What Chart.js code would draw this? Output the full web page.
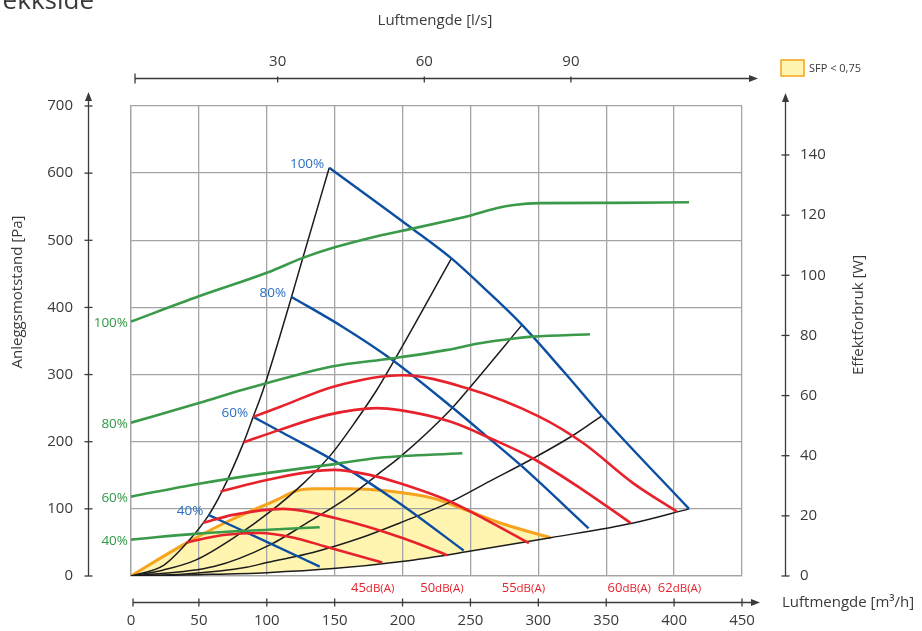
<!DOCTYPE html>
<html>
<head>
<meta charset="utf-8">
<script src="https://cdn.jsdelivr.net/npm/chart.js@4.4.1/dist/chart.umd.min.js"></script>
<style>
  html, body { margin: 0; padding: 0; background: #fff; }
  canvas { display: block; }
</style>
</head>
<body>
<canvas id="chart" width="922" height="631"></canvas>
<script>
// axis ticks
const flowTicks = [0, 50, 100, 150, 200, 250, 300, 350, 400, 450]   // m3/h
const lpsTicks = [30, 60, 90]                                         // l/s
const pressureTicks = [0, 100, 200, 300, 400, 500, 600, 700]         // Pa
const powerTicks = [0, 20, 40, 60, 80, 100, 120, 140]                // W

// system curves [m3/h, Pa] (black)
const sysA = [[0,0],[24,16],[41,49],[57,90],[67,126],[83,199],[90,237],[97,275],[118,414],[126,470],[146,608]]
const sysB = [[0,0],[24,9],[48,24],[78,60],[102,95],[127,138],[147,180],[166,232],[181,277],[193,318],[236,473]]
const sysC = [[0,0],[61,14],[102,46],[132,82],[159,116],[186,158],[198,177],[235,247],[248,277],[288,374]]
const sysD = [[0,0],[40,3],[85,13],[100,20],[134,35],[171,58],[198,79],[235,110],[264,141],[296,175],[326,210],[347,239]]
const sysE = [[0,0],[50,2],[100,5],[149,11],[201,22],[247,36],[309,57],[370,79],[411,100]]

// fan curves [m3/h, Pa] (blue)
const fan100 = [[146,608],[208,516],[236,473],[262,425],[288,374],[318,306],[347,238],[411,100]]
const fan80 = [[118,416],[156,371],[191,324],[236,252],[262,208],[287,165],[337,71]]
const fan60 = [[90,237],[112,213],[151,170],[198,108],[245,38]]
const fan40 = [[57,91],[102,49],[139,14]]
const fanLabels = ['100%', '80%', '60%', '40%']

// power consumption [m3/h, W] (green, right axis)
const pow100 = [[0,84.6],[50,93],[101,101],[126,105.7],[150,109.3],[182,113.1],[208,115.6],[236,118.4],[251,120],[269,122.3],[282,123.4],[301,124],[355,124.1],[411,124.3]]
const pow80 = [[0,51],[50,57.5],[83,62],[125,67.2],[147,69.6],[193,72.4],[233,75.2],[257,77.4],[282,79],[296,79.6],[338,80.4]]
const pow60 = [[0,26.4],[49,30.6],[101,34.3],[151,37.3],[183,39.3],[244,40.8]]
const pow40 = [[0,12.1],[49,14.1],[101,15.4],[139,16.2]]
const powLabels = ['100%', '80%', '60%', '40%']

// sound level lines [m3/h, Pa] (red)
const db45 = [[41,50],[68,61],[95,64],[122,56],[143,44],[185,20]]
const db50 = [[53,79],[75,91],[112,100],[151,86],[201,56],[233,31]]
const db55 = [[66,126],[100,143],[149,158],[175,151],[198,138],[235,111],[264,81],[293,49]]
const db60 = [[83,199],[110,218],[145,240],[181,250],[198,247],[235,230],[267,203],[296,175],[333,128],[368,79]]
const db62 = [[90,237],[110,252],[149,282],[200,299],[247,280],[301,237],[333,198],[370,138],[402,96]]
const dbLabels = ['45', '50', '55', '60', '62']
const dbLabelFlow = [178, 229, 289, 367, 404]

// SFP < 0,75 area upper limit [m3/h, Pa]
const sfpLimit = [[0,0],[38,46],[73,83],[107,113],[122,127],[135,130],[160,130],[188,127],[222,116],[247,98],[272,79],[309,57]]

const GRID = '#a4a4a4'
const AXIS = '#3a3a3a'
const TEXT = '#3a3a3a'
const BLACK = '#1c1c1c'
const BLUE = '#0c4fa2'
const BLUE_TXT = '#2d6fc2'
const RED = '#e8222c'
const GREEN = '#3a9a4a'
const GREEN_TXT = '#2f9946'
const ORANGE = '#f6a31e'
const YELLOW = '#fff5b0'
const FONT = "'Open Sans', sans-serif"

Chart.defaults.font.family = FONT
Chart.defaults.font.size = 15
Chart.defaults.color = TEXT

const line = (data, color, width, axis = 'y') => ({
  data: data.map(([x, y]) => ({x, y})),
  borderColor: color,
  borderWidth: width,
  yAxisID: axis,
  pointRadius: 0,
  fill: false,
  cubicInterpolationMode: 'monotone'
})

// first dataset is drawn on top
const datasets = [
  ...[pow100, pow80, pow60, pow40].map(c => line(c, GREEN, 2.6, 'y2')),
  ...[db45, db50, db55, db60, db62].map(c => line(c, RED, 2.6)),
  ...[fan100, fan80, fan60, fan40].map(c => line(c, BLUE, 2.4)),
]
// yellow area between the SFP limit and the lowest system curve
const fillIndex = datasets.length
datasets.push({...line(sfpLimit, 'rgba(0,0,0,0)', 0), backgroundColor: YELLOW})
datasets.push(...[sysA, sysB, sysC, sysD, sysE].map(c => line(c, BLACK, 1.5)))
datasets[fillIndex].fill = {target: datasets.length - 1, above: YELLOW, below: YELLOW}
datasets.push(line(sfpLimit, ORANGE, 3))

const setTicks = (vals) => (scale) => { scale.ticks = vals.map(v => ({value: v})) }

const overlay = {
  id: 'overlay',
  afterDraw(chart) {
    const {ctx} = chart
    const {x, y, y2, xTop} = chart.scales
    ctx.save()
    ctx.strokeStyle = AXIS
    ctx.fillStyle = AXIS
    ctx.lineWidth = 1.3
    const seg = (x1, y1, x2, yy2) => { ctx.beginPath(); ctx.moveTo(x1, y1); ctx.lineTo(x2, yy2); ctx.stroke() }
    const tri = (a, b, c) => { ctx.beginPath(); ctx.moveTo(a[0], a[1]); ctx.lineTo(b[0], b[1]); ctx.lineTo(c[0], c[1]); ctx.closePath(); ctx.fill() }

    // left axis
    const lx = 88.5
    seg(lx, y.getPixelForValue(0), lx, 100)
    tri([lx, 92], [lx - 3.5, 101], [lx + 3.5, 101])
    pressureTicks.forEach(v => { const py = y.getPixelForValue(v); seg(lx - 4, py, lx + 4, py) })

    // right axis
    const rx = 785.5
    seg(rx, y2.getPixelForValue(0), rx, 100)
    tri([rx, 93], [rx - 3.5, 102], [rx + 3.5, 102])
    powerTicks.forEach(v => { const py = y2.getPixelForValue(v); seg(rx - 4, py, rx + 4, py) })

    // bottom axis
    const by = 602.5
    const bx0 = x.getPixelForValue(0) + 2
    seg(bx0, by, 752, by)
    tri([760, by], [751, by - 3.5], [751, by + 3.5])
    flowTicks.forEach((v, i) => { const px = x.getPixelForValue(v) + (i === 0 ? 2 : 0); seg(px, by - 4, px, by + 4) })

    // top axis
    const ty = 78.5
    const tx0 = xTop.getPixelForValue(0) + 4
    seg(tx0, ty, 750, ty)
    tri([758, ty], [749, ty - 3.5], [749, ty + 3.5])
    seg(tx0, ty - 5, tx0, ty + 5)
    lpsTicks.forEach(v => { const px = xTop.getPixelForValue(v); seg(px, ty - 2, px, ty + 4) })

    // titles
    ctx.fillStyle = TEXT
    ctx.font = `15px ${FONT}`
    ctx.textBaseline = 'middle'
    ctx.textAlign = 'center'
    ctx.fillText('Luftmengde [l/s]', 435, 21)
    ctx.textAlign = 'left'
    ctx.fillText('Luftmengde [m³/h]', 782, 603)
    ctx.textAlign = 'center'
    ctx.save()
    ctx.translate(18, 292)
    ctx.rotate(-Math.PI / 2)
    ctx.fillText('Anleggsmotstand [Pa]', 0, 0)
    ctx.restore()
    ctx.save()
    ctx.translate(859, 315)
    ctx.rotate(-Math.PI / 2)
    ctx.fillText('Effektforbruk [W]', 0, 0)
    ctx.restore()

    ctx.font = `26px ${FONT}`
    ctx.textAlign = 'right'
    ctx.textBaseline = 'alphabetic'
    ctx.fillText('ekkside', 94, 9)

    // legend
    ctx.fillStyle = YELLOW
    ctx.fillRect(781, 60, 23, 16)
    ctx.strokeStyle = ORANGE
    ctx.lineWidth = 1.5
    ctx.strokeRect(781, 60, 23, 16)
    ctx.fillStyle = TEXT
    ctx.font = `11px ${FONT}`
    ctx.textAlign = 'left'
    ctx.textBaseline = 'middle'
    ctx.fillText('SFP < 0,75', 809, 69)

    // curve labels
    ctx.font = `13.5px ${FONT}`
    ctx.textAlign = 'right'
    ctx.fillStyle = BLUE_TXT
    ;[fan100, fan80, fan60, fan40].forEach((c, i) => {
      ctx.fillText(fanLabels[i], x.getPixelForValue(c[0][0]) - 5, y.getPixelForValue(c[0][1]) - 4)
    })
    ctx.fillStyle = GREEN_TXT
    ;[pow100, pow80, pow60, pow40].forEach((c, i) => {
      ctx.fillText(powLabels[i], x.getPixelForValue(c[0][0]) - 3, y2.getPixelForValue(c[0][1]) + 2)
    })

    // dB(A) labels
    ctx.fillStyle = RED
    ctx.textAlign = 'left'
    dbLabels.forEach((t, i) => {
      ctx.font = `13px ${FONT}`
      const w1 = ctx.measureText(t).width
      ctx.font = `11.5px ${FONT}`
      const w2 = ctx.measureText('dB(A)').width
      const x0 = x.getPixelForValue(dbLabelFlow[i]) - (w1 + w2) / 2
      ctx.font = `13px ${FONT}`
      ctx.fillText(t, x0, 588)
      ctx.font = `11.5px ${FONT}`
      ctx.fillText('dB(A)', x0 + w1, 589)
    })
    ctx.restore()
  }
}

new Chart(document.getElementById('chart'), {
  type: 'line',
  data: { datasets },
  options: {
    responsive: false,
    animation: false,
    devicePixelRatio: 1,
    layout: { padding: 0 },
    plugins: {
      legend: { display: false },
      tooltip: { enabled: false },
      filler: { drawTime: 'beforeDraw' }
    },
    scales: {
      x: {
        type: 'linear',
        position: 'bottom',
        min: 0,
        max: 450,
        afterBuildTicks: setTicks(flowTicks),
        afterFit: s => { s.height = 55 },
        grid: { color: GRID, lineWidth: 1.3, drawTicks: false },
        border: { color: GRID, width: 1.3 },
        ticks: { padding: 36, maxRotation: 0 }
      },
      xTop: {
        type: 'linear',
        axis: 'x',
        position: 'top',
        min: 0,
        max: 125,
        afterBuildTicks: setTicks(lpsTicks),
        afterFit: s => { s.height = 106 },
        grid: { display: false, drawTicks: false },
        border: { display: false },
        ticks: { padding: 35, maxRotation: 0 }
      },
      y: {
        type: 'linear',
        position: 'left',
        min: 0,
        max: 700,
        afterBuildTicks: setTicks(pressureTicks),
        afterFit: s => { s.width = 131 },
        grid: { color: GRID, lineWidth: 1.3, drawTicks: true, tickLength: 58, tickColor: 'rgba(0,0,0,0)' },
        border: { color: GRID, width: 1.3 },
        ticks: { padding: 0 }
      },
      y2: {
        type: 'linear',
        position: 'right',
        min: 0,
        max: 156.3,
        afterBuildTicks: setTicks(powerTicks),
        afterFit: s => { s.width = 180 },
        grid: { display: true, drawOnChartArea: false, drawTicks: true, tickLength: 58, tickColor: 'rgba(0,0,0,0)' },
        border: { display: false },
        ticks: { padding: 0 }
      }
    }
  },
  plugins: [overlay]
})
</script>
</body>
</html>
